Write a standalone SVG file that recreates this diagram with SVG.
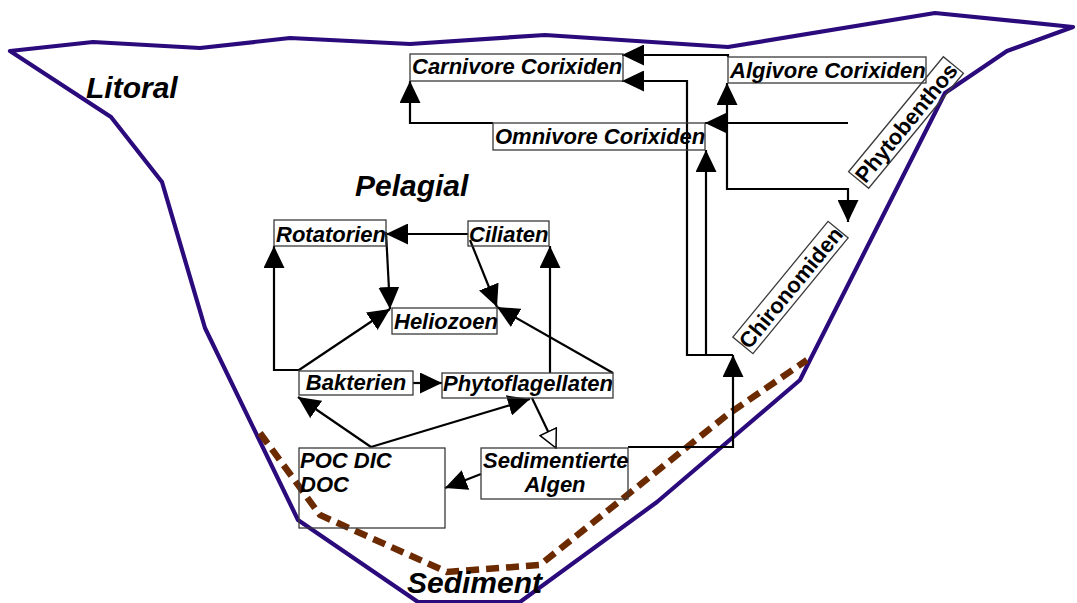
<svg xmlns="http://www.w3.org/2000/svg" width="1077" height="603" viewBox="0 0 1077 603">
<style>
.bg{fill:#fff}
.lake{fill:none;stroke:#2b0a7c;stroke-width:4.2;stroke-linejoin:round}
.sed{fill:none;stroke:#6b2a00;stroke-width:6.5;stroke-dasharray:13 7}
.box{fill:none;stroke:#3a3a3a;stroke-width:1.3}
.t{font-family:"Liberation Sans",Arial,sans-serif;font-size:22px;font-weight:bold;font-style:italic;fill:#000}
.tu{font-family:"Liberation Sans",Arial,sans-serif;font-size:22px;font-weight:bold;fill:#000}
.big{font-family:"Liberation Sans",Arial,sans-serif;font-size:30px;font-weight:bold;font-style:italic;fill:#000}
.c{fill:none;stroke:#000;stroke-width:2.2;marker-end:url(#ah)}
.co{fill:none;stroke:#000;stroke-width:2.2;marker-end:url(#oh)}
</style>
<defs>
<marker id="ah" markerUnits="userSpaceOnUse" viewBox="0 0 22 21" refX="22" refY="10.5" markerWidth="22" markerHeight="21" orient="auto-start-reverse">
<path d="M0,0 L22,10.5 L0,21 Z" fill="#000"/>
</marker>
<marker id="oh" markerUnits="userSpaceOnUse" viewBox="0 0 20 20" refX="19" refY="10" markerWidth="20" markerHeight="20" orient="auto">
<path d="M1,1 L19,10 L1,19 Z" fill="#fff" stroke="#000" stroke-width="1.5"/>
</marker>
</defs>
<rect class="bg" x="0" y="0" width="1077" height="603"/>
<g id="lake">
<polygon class="lake" points="10,51 93,42 200,48 290,38 410,44 545,35 728,47 935,13 1073,27 1007,51 945,93 810,360 800,380 657,502 520,602 418,602 298,520 205,328 162,182 111,117"/>
<polyline class="sed" points="260,433 320,515 447,572 540,565 727,415 807,360"/>
</g>
<g id="labels">
<text class="big" x="86" y="98">Litoral</text>
<text class="big" x="355" y="196">Pelagial</text>
<text class="big" x="407" y="593">Sediment</text>
</g>
<g id="connectors">
<path class="c" d="M493,123 H410 V81"/>
<path class="c" d="M728,57 V55 H622"/>
<path class="c" d="M733,355 H687 V81 H622"/>
<path class="c" d="M706,355 V150"/>
<path class="c" d="M628,447 H733 V355"/>
<path class="c" d="M848,123 H705"/>
<path class="c" d="M727,83 V189 H848 V222" marker-start="url(#ah)"/>
<path class="c" d="M468,234 H386"/>
<path class="c" d="M386,232 L390,309"/>
<path class="c" d="M470,240 L497,307"/>
<path class="c" d="M299,370 L390,309"/>
<path class="c" d="M299,370 H274 V246"/>
<path class="c" d="M613,373 L497,307"/>
<path class="c" d="M550,373 V246"/>
<path class="c" d="M413,383 H442"/>
<path class="c" d="M371,447 L298,397"/>
<path class="c" d="M371,447 L530,399"/>
<path class="co" d="M532,398 L556,448"/>
<path class="c" d="M481,474 L445,488"/>
</g>
<g id="carnivore">
<rect class="box" x="410" y="54" width="213" height="27"/>
<text class="t" x="412" y="74">Carnivore Corixiden</text>
</g>
<g id="algivore">
<rect class="box" x="728" y="57" width="198" height="26"/>
<text class="t" x="730" y="78">Algivore Corixiden</text>
</g>
<g id="omnivore">
<rect class="box" x="493" y="123" width="212" height="27"/>
<text class="t" x="495" y="144">Omnivore Corixiden</text>
</g>
<g id="phytobenthos" transform="translate(906,122.5) rotate(-50.5)">
<rect class="box" x="-74.5" y="-13" width="149" height="26"/>
<text class="tu" x="0" y="8" text-anchor="middle">Phytobenthos</text>
</g>
<g id="chironomiden" transform="translate(790.5,287.5) rotate(-50.6)">
<rect class="box" x="-75" y="-13" width="150" height="26"/>
<text class="tu" x="0" y="8" text-anchor="middle">Chironomiden</text>
</g>
<g id="rotatorien">
<rect class="box" x="274" y="220" width="112" height="26"/>
<text class="t" x="276" y="242">Rotatorien</text>
</g>
<g id="ciliaten">
<rect class="box" x="468" y="221" width="81" height="25"/>
<text class="t" x="469" y="242">Ciliaten</text>
</g>
<g id="heliozoen">
<rect class="box" x="392" y="308" width="105" height="26"/>
<text class="t" x="394" y="329">Heliozoen</text>
</g>
<g id="bakterien">
<rect class="box" x="299" y="371" width="114" height="24"/>
<text class="t" x="356" y="390" text-anchor="middle">Bakterien</text>
</g>
<g id="phytoflagellaten">
<rect class="box" x="442" y="373" width="171" height="25"/>
<text class="t" x="443" y="391">Phytoflagellaten</text>
</g>
<g id="poc">
<rect class="box" x="299" y="448" width="146" height="80"/>
<text class="t" x="300" y="468">POC DIC</text>
<text class="t" x="300" y="492">DOC</text>
</g>
<g id="sedimentierte">
<rect class="box" x="481" y="448" width="147" height="51"/>
<text class="t" x="483" y="468">Sedimentierte</text>
<text class="t" x="555" y="492" text-anchor="middle">Algen</text>
</g>
</svg>
